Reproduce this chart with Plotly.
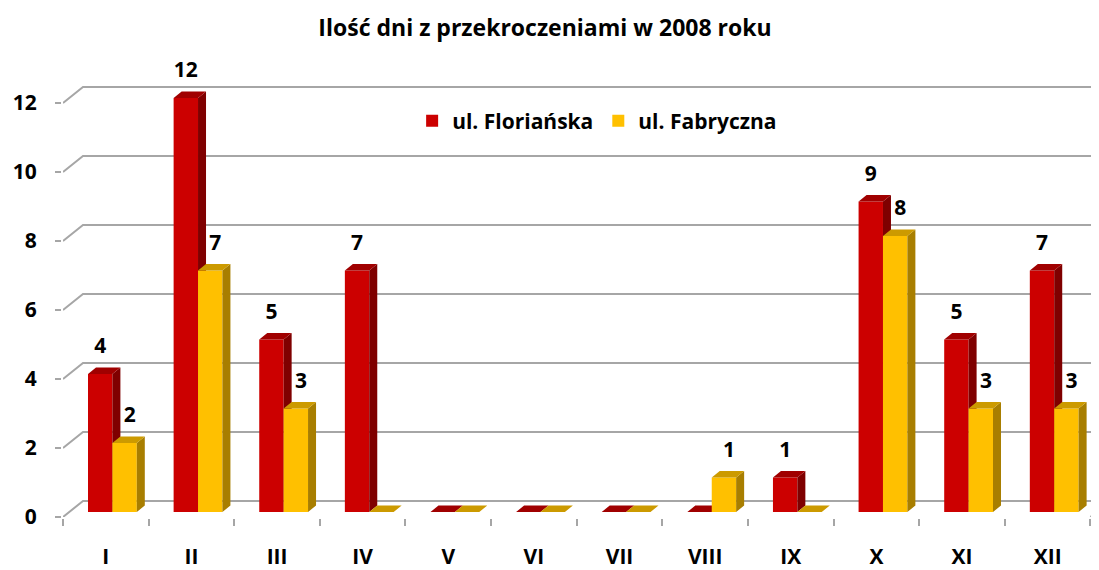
import plotly.graph_objects as go

# ---- data ----
months = ["I", "II", "III", "IV", "V", "VI", "VII", "VIII", "IX", "X", "XI", "XII"]
florianska = [4, 12, 5, 7, 0, 0, 0, 0, 1, 9, 5, 7]
fabryczna = [2, 7, 3, 0, 0, 0, 0, 1, 0, 8, 3, 3]
series_names = ["ul. Floriańska", "ul. Fabryczna"]
y_ticks = [0, 2, 4, 6, 8, 10, 12]
title_text = "Ilość dni z przekroczeniami w 2008 roku"

# ---- styling / 3D geometry (in axis units) ----
FONT = "Open Sans"
GRID = "#a6a6a6"
wall_dx, wall_dy = 0.2336, 0.464      # back wall offset
base0 = 0.145                         # bars sit slightly behind the front floor edge
bar_w = 0.285
offsets = [0.292, 0.577]
dep_dx, dep_dy = 0.0934, 0.188        # bar depth
front_cols = ["#cc0000", "#ffc000"]
side_cols = ["#7f0000", "#a87e00"]
top_cols = ["#a00000", "#cc9a00"]
label_shift = [0.0, 0.06]
n = len(months)
x_max = 12.1
y_max = 13.246
W, H = 1091, 562   # page body has an 8px margin

fig = go.Figure()

# back wall grid + left wall diagonals
gx, gy = [], []
for v in y_ticks:
    gx += [0, wall_dx, n + wall_dx + 1, None]
    gy += [v, v + wall_dy, v + wall_dy, None]
# right floor edge
gx += [n, n + wall_dx, None]
gy += [0, wall_dy, None]
fig.add_trace(go.Scatter(x=gx, y=gy, mode="lines", line=dict(color=GRID, width=2),
                         hoverinfo="skip", showlegend=False, zorder=0))

for s, vals in enumerate([florianska, fabryczna]):
    xs = [i + offsets[s] for i in range(n)]
    fig.add_trace(go.Bar(
        x=list(range(n)), y=vals, base=[base0] * n, offset=offsets[s], width=bar_w,
        marker=dict(color=front_cols[s], line=dict(width=0)),
        name=series_names[s], zorder=1 + 3 * s))
    sx, sy, tx, ty = [], [], [], []
    for i, v in enumerate(vals):
        xl = xs[i]
        xr = xl + bar_w
        top = base0 + v
        sx += [xr, xr + dep_dx, xr + dep_dx, xr, xr, None]
        sy += [base0, base0 + dep_dy, top + dep_dy, top, base0, None]
        tx += [xl, xl + dep_dx, xr + dep_dx, xr, xl, None]
        ty += [top, top + dep_dy, top + dep_dy, top, top, None]
    fig.add_trace(go.Scatter(x=sx, y=sy, mode="lines", fill="toself", fillcolor=side_cols[s],
                             line=dict(width=0, color=side_cols[s]), hoverinfo="skip",
                             showlegend=False, zorder=2 + 3 * s))
    fig.add_trace(go.Scatter(x=tx, y=ty, mode="lines", fill="toself", fillcolor=top_cols[s],
                             line=dict(width=0, color=top_cols[s]), hoverinfo="skip",
                             showlegend=False, zorder=3 + 3 * s))
    lx = [xs[i] + bar_w / 2 + label_shift[s] for i, v in enumerate(vals) if v > 0]
    ly = [base0 + v + 0.75 for v in vals if v > 0]
    lt = [str(v) for v in vals if v > 0]
    fig.add_trace(go.Scatter(x=lx, y=ly, mode="text", text=lt,
                             textfont=dict(family=FONT, size=21, color="#000000", weight="bold"),
                             hoverinfo="skip", showlegend=False, cliponaxis=False, zorder=10))

fig.update_layout(
    width=W, height=H,
    margin=dict(l=55, r=0, t=52, b=53),
    paper_bgcolor="white", plot_bgcolor="white",
    barmode="overlay",
    font=dict(family=FONT, color="#000000"),
    title=dict(text=title_text, x=537 / W, xref="container", xanchor="center",
               y=1 - 20 / H, yref="container", yanchor="middle",
               font=dict(family=FONT, size=23, color="#000000", weight="bold")),
    legend=dict(orientation="h", x=0.337, y=0.8665, xanchor="left", yanchor="middle",
                font=dict(family=FONT, size=21, color="#000000", weight="bold"),
                bgcolor="rgba(0,0,0,0)", traceorder="normal"),
    xaxis=dict(range=[0, x_max], showgrid=False, zeroline=False, automargin=False,
               showline=True, linecolor=GRID, linewidth=2,
               tickmode="array", tickvals=[i + 0.5 for i in range(n)], ticktext=months,
               ticks="outside", ticklen=0, ticklabelstandoff=20,
               tickfont=dict(family=FONT, size=21, color="#000000", weight="bold"),
               minor=dict(tickmode="array", tickvals=list(range(n + 1)), ticks="outside",
                          ticklen=7, tickwidth=2, tickcolor=GRID, showgrid=False),
               fixedrange=True),
    yaxis=dict(range=[0, y_max], showgrid=False, zeroline=False, automargin=False,
               showline=True, linecolor=GRID, linewidth=2,
               tickmode="array", tickvals=y_ticks, ticks="outside", ticklen=6, tickwidth=2,
               tickcolor=GRID, ticklabelstandoff=14,
               tickfont=dict(family=FONT, size=21, color="#000000", weight="bold"),
               fixedrange=True),
)

fig.write_html("out.html")
